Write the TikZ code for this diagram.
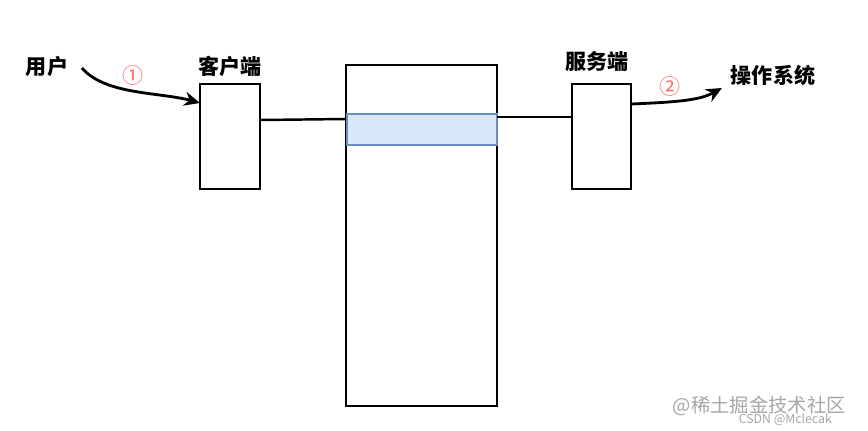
\documentclass[tikz,border=0pt]{standalone}
\usepackage{fontspec}
\setmainfont{Noto Sans CJK SC}
\usetikzlibrary{arrows.meta}
\begin{document}
\begin{tikzpicture}[x=0.02cm,y=-0.02cm,
  box/.style={draw=black,line width=1.4pt},
  lbl/.style={font=\bfseries\fontsize{12}{14}\selectfont},
  num/.style={text=red!60,font=\fontsize{12}{14}\selectfont},
  conn/.style={line width=1.4pt},
  arr/.style={line width=1.6pt,-{Stealth[length=9pt,width=8pt]}}]
\useasboundingbox[fill=white] (0,0) rectangle (868,430);
\node[lbl] (user) at (47,67) {用户};
\node[lbl] (clabel) at (230,66) {客户端};
\node[lbl] (slabel) at (597,62) {服务端};
\node[lbl] (os) at (773,75) {操作系统};
\node[num] (n1) at (133,75) {①};
\node[num] (n2) at (670,86) {②};
\node[box,minimum width=1.2cm,minimum height=2.1cm,inner sep=0] (client) at (230,136.5) {};
\node[box,minimum width=1.18cm,minimum height=2.1cm,inner sep=0] (server) at (601.5,136.5) {};
\node[box,minimum width=3.02cm,minimum height=6.82cm,inner sep=0] (big) at (421.5,235.5) {};
\node[draw={rgb,255:red,108;green,142;blue,191},fill={rgb,255:red,218;green,232;blue,252},line width=1.4pt,minimum width=3cm,minimum height=0.62cm,inner sep=0] (blue) at (422,129.5) {};
\coordinate (c1) at (260,120);
\coordinate (c2) at (346,119);
\draw[conn] (c1) -- (c2);
\coordinate (s1) at (497,117);
\coordinate (s2) at (572,117);
\draw[conn] (s1) -- (s2);
\coordinate (ua) at (82,68);
\coordinate (ub) at (200,103);
\draw[arr] (ua) .. controls (105,95) and (160,92) .. (ub);
\coordinate (oa) at (631,104);
\coordinate (ob) at (722,88);
\draw[arr] (oa) .. controls (680,102) and (700,100) .. (ob);
\node[text=gray!70,font=\fontsize{11}{13}\selectfont,anchor=east] (wm) at (852,406) {@稀土掘金技术社区};
\node[text=gray!70,font=\fontsize{7}{9}\selectfont,anchor=east] (wm2) at (838,420) {CSDN @Mclecak};
\end{tikzpicture}
\end{document}
